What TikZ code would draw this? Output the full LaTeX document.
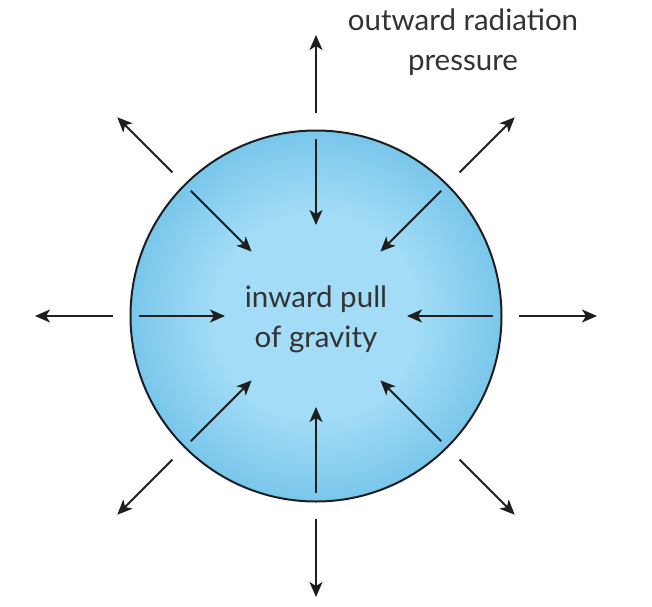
\documentclass[tikz,border=0pt]{standalone}
\usepackage{fontspec}
\setmainfont{Lato}
\usetikzlibrary{arrows.meta}
\definecolor{starIn}{HTML}{A2DCF6}
\definecolor{starOut}{HTML}{1B95D3}
\definecolor{inkA}{HTML}{1E1E1E}
\definecolor{txtA}{HTML}{333333}
\pgfdeclareradialshading{starglow}{\pgfpoint{0bp}{0bp}}{color(0bp)=(starIn); color(14bp)=(starIn); color(50bp)=(starOut)}
\tikzset{
  arr/.style={-{Stealth[length=15pt, width=13pt, inset=4pt]}, line width=1.8pt, draw=inkA},
  lbl/.style={font=\fontsize{29.5}{40}\selectfont, text=txtA, align=center},
}
\begin{document}
\begin{tikzpicture}[x=1pt,y=1pt]
  \useasboundingbox (-316,-290) rectangle (336,316);
  \node[circle, minimum size=371pt, inner sep=0pt, draw=inkA, line width=2pt, shading=starglow] (star) at (0,0) {};
  \node[lbl] (grav) at (0,-3) {inward pull\\of gravity};
  \node[lbl] (rad) at (147,274) {outward radiation\\pressure};
  % inward and outward arrows
  \foreach \a in {0,45,...,315} {
    \coordinate (p\a) at (\a:177);
    \coordinate (q\a) at (\a:91);
    \coordinate (r\a) at (\a:203);
    \coordinate (s\a) at (\a:281);
    \draw[arr] (p\a) -- (q\a);
    \draw[arr] (r\a) -- (s\a);
  }
\end{tikzpicture}
\end{document}
